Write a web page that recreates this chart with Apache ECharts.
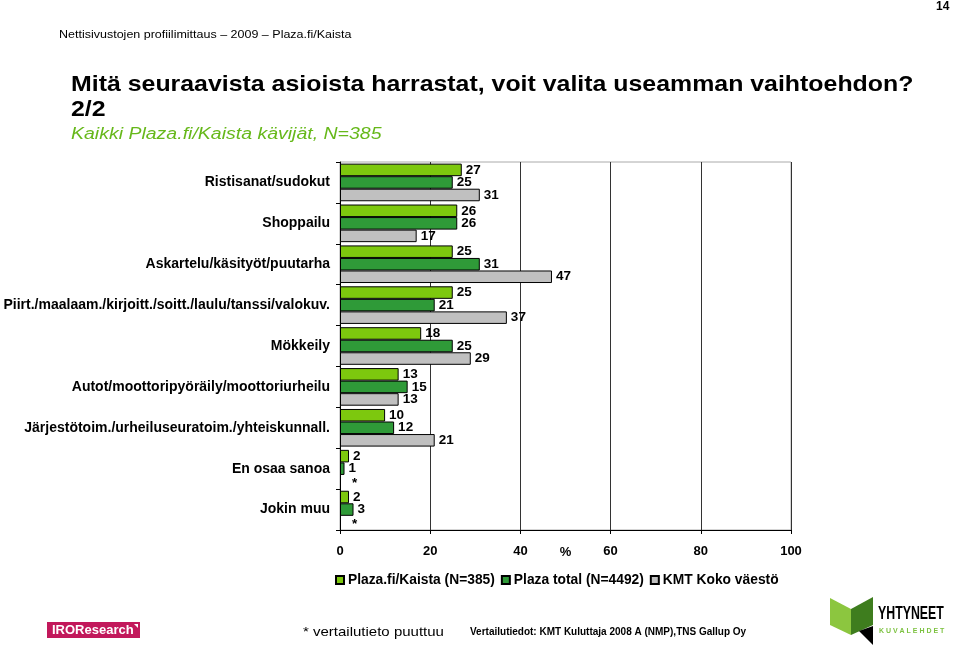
<!DOCTYPE html>
<html><head><meta charset="utf-8">
<script src="https://cdn.jsdelivr.net/npm/echarts@6/dist/echarts.min.js"></script>
<style>html,body{margin:0;padding:0;background:#fff}#c{width:960px;height:651px}</style>
</head><body><div id="c"></div>
<script>
const categories = [
  'Ristisanat/sudokut',
  'Shoppailu',
  'Askartelu/käsityöt/puutarha',
  'Piirt./maalaam./kirjoitt./soitt./laulu/tanssi/valokuv.',
  'Mökkeily',
  'Autot/moottoripyöräily/moottoriurheilu',
  'Järjestötoim./urheiluseuratoim./yhteiskunnall.',
  'En osaa sanoa',
  'Jokin muu'
];
const seriesNames = ['Plaza.fi/Kaista (N=385)', 'Plaza total (N=4492)', 'KMT Koko väestö'];
const kaista = [27, 26, 25, 25, 18, 13, 10, 2, 2];
const plazaTotal = [25, 26, 31, 21, 25, 15, 12, 1, 3];
const kmt = [31, 17, 47, 37, 29, 13, 21, null, null];
const xTickLabels = ['0', '20', '40', '60', '80', '100'];

const FONT = 'Liberation Sans, Arial, sans-serif';
const colors = ['#7DC80E', '#2F9A38', '#C0C0C0'];

function toData(arr) {
  return arr.map(v => v === null
    ? { value: 0, itemStyle: { color: 'rgba(0,0,0,0)', borderWidth: 0 }, label: { formatter: '*', offset: [8, 2] } }
    : v);
}

function txt(x, y, text, style, extra) {
  return Object.assign({ type: 'text', x: x, y: y,
    style: Object.assign({ text: text, fontFamily: FONT, fill: '#000', verticalAlign: 'middle', align: 'left' }, style) }, extra || {});
}

const chart = echarts.init(document.getElementById('c'), null, { renderer: 'canvas' });
const labelStyle = { show: true, position: 'right', distance: 4, color: '#000', fontFamily: FONT, fontWeight: 'bold', fontSize: 13.5 };

const option = {
  backgroundColor: '#fff',
  animation: false,
  grid: { left: 340, right: 169, top: 162, bottom: 121, containLabel: false, outerBoundsMode: 'none',
    show: true, borderColor: '#aaa', borderWidth: 1, backgroundColor: 'transparent' },
  legend: {
    left: 335, top: 573, padding: 0, itemWidth: 8, itemHeight: 8, itemGap: 6, icon: 'rect',
    textStyle: { fontFamily: FONT, fontWeight: 'bold', fontSize: 13.8, color: '#000', padding: [0, 0, 0, -1] },
    data: seriesNames
  },
  xAxis: {
    type: 'value', min: 0, max: 100, interval: 20,
    name: '%', nameLocation: 'middle', nameGap: 16, nameMoveOverlap: false,
    nameTextStyle: { fontFamily: FONT, fontWeight: 'bold', fontSize: 13, color: '#000' },
    axisLine: { show: true, lineStyle: { color: '#000', width: 1 } },
    axisTick: { show: true, length: 4, lineStyle: { color: '#000' } },
    axisLabel: { margin: 15, fontFamily: FONT, fontWeight: 'bold', fontSize: 13, color: '#000',
      formatter: (v) => xTickLabels[Math.round(v / 20)] },
    splitLine: { show: true, lineStyle: { color: '#333', width: 1 } }
  },
  yAxis: {
    type: 'category', data: categories, inverse: true,
    axisLine: { show: true, lineStyle: { color: '#000', width: 1 } },
    axisTick: { show: true, length: 4, lineStyle: { color: '#000' } },
    axisLabel: { margin: 10, fontFamily: FONT, fontWeight: 'bold', fontSize: 14, color: '#000' },
    splitLine: { show: false }
  },
  series: [
    { name: seriesNames[0], type: 'bar', data: toData(kaista), barGap: '0%', barCategoryGap: '8%',
      itemStyle: { color: colors[0], borderColor: '#000', borderWidth: 1 }, label: labelStyle },
    { name: seriesNames[1], type: 'bar', data: toData(plazaTotal), barGap: '0%', barCategoryGap: '8%',
      itemStyle: { color: colors[1], borderColor: '#000', borderWidth: 1 }, label: labelStyle },
    { name: seriesNames[2], type: 'bar', data: toData(kmt), barGap: '0%', barCategoryGap: '8%',
      itemStyle: { color: colors[2], borderColor: '#000', borderWidth: 1 }, label: labelStyle }
  ],
  graphic: [
    txt(936, 7, '14', { fontWeight: 'bold', fontSize: 12 }),
    txt(59, 35, 'Nettisivustojen profiilimittaus – 2009 – Plaza.fi/Kaista', { fontSize: 12.5 }, { scaleY: 0.9 }),
    txt(71, 85, 'Mitä seuraavista asioista harrastat, voit valita useamman vaihtoehdon?', { fontWeight: 'bold', fontSize: 24.9 }, { scaleY: 0.85 }),
    txt(71, 110, '2/2', { fontWeight: 'bold', fontSize: 24.9 }, { scaleY: 0.85 }),
    txt(71, 134, 'Kaikki Plaza.fi/Kaista kävijät, N=385', { fontStyle: 'italic', fontSize: 19.5, fill: '#66B81A' }, { scaleY: 0.88 }),
    txt(303, 632, '* vertailutieto puuttuu', { fontSize: 15 }, { scaleY: 0.9 }),
    txt(470, 632, 'Vertailutiedot: KMT Kuluttaja 2008 A (NMP),TNS Gallup Oy', { fontWeight: 'bold', fontSize: 10 }),
    { type: 'rect', shape: { x: 47, y: 622, width: 93, height: 16 }, style: { fill: '#C2185B' } },
    txt(52, 630, 'IROResearch', { fontWeight: 'bold', fontSize: 13, fill: '#fff' }),
    { type: 'polygon', shape: { points: [[134, 624], [138, 624], [138, 628]] }, style: { fill: '#fff' } },
    { type: 'polygon', shape: { points: [[830, 598], [851, 609], [851, 635], [830, 625]] }, style: { fill: '#8CC63F' } },
    { type: 'polygon', shape: { points: [[851, 609], [873, 597], [873, 625], [851, 635]] }, style: { fill: '#3E7D1E' } },
    { type: 'polygon', shape: { points: [[859, 631], [873, 626], [873, 645]] }, style: { fill: '#000' } },
    txt(878, 614, 'YHTYNEET', { fontWeight: 'bold', fontSize: 19 }, { scaleX: 0.65 }),
    txt(879, 631, 'K U V A L E H D E T', { fontWeight: 'bold', fontSize: 7, fill: '#7DC241' })
  ]
};
chart.setOption(option);
</script>
</body></html>
